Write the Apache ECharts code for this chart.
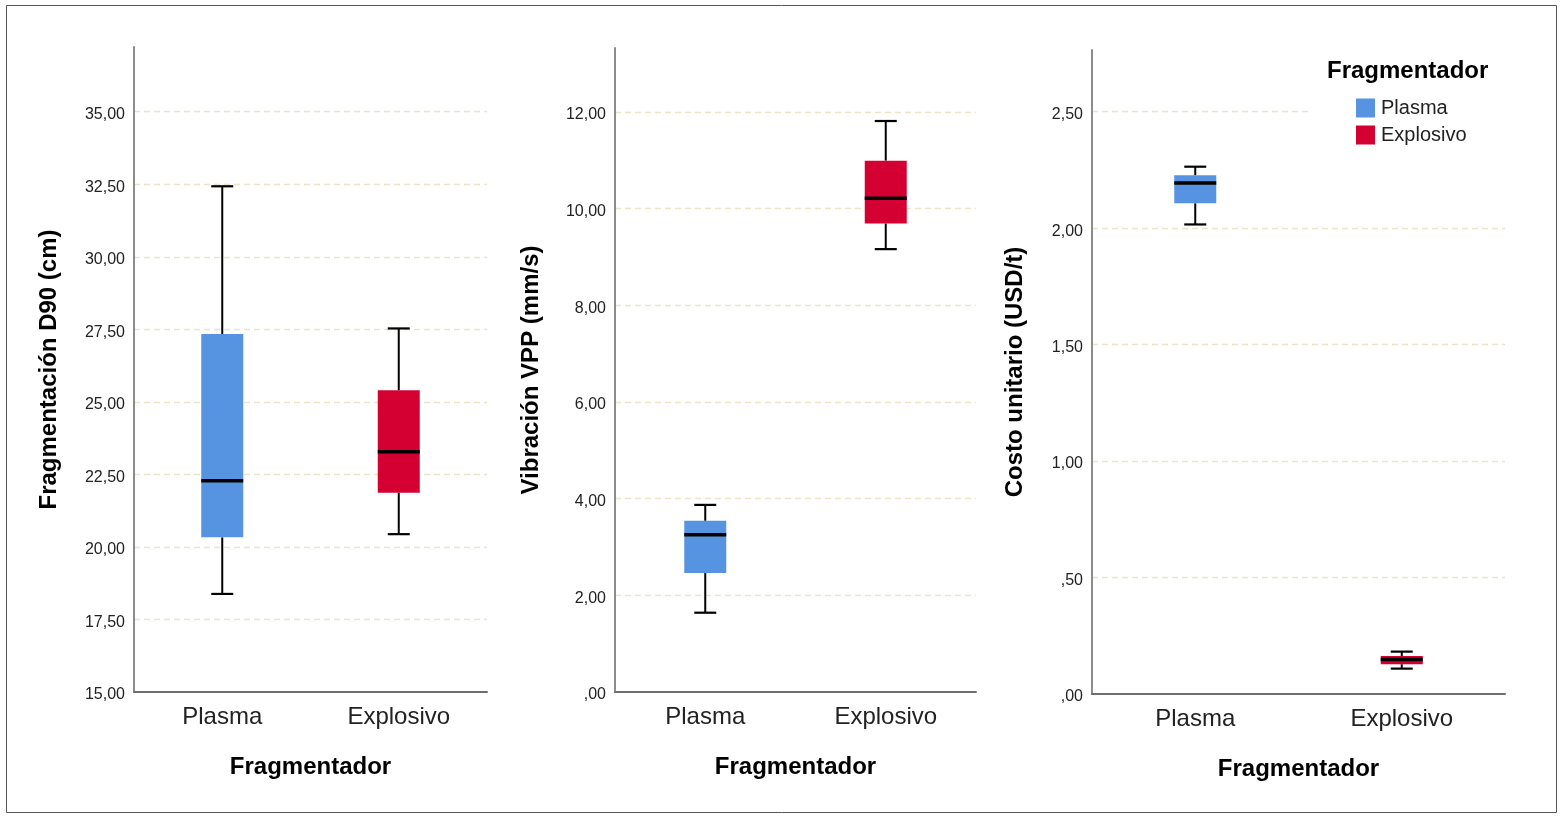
<!DOCTYPE html>
<html>
<head>
<meta charset="utf-8">
<script src="https://cdn.jsdelivr.net/npm/echarts@6/dist/echarts.min.js"></script>
<style>
  html, body { margin: 0; padding: 0; background: #fff; }
  #chart { width: 1561px; height: 819px; }
</style>
</head>
<body>
<div id="chart"></div>
<script>
// categorías del eje x
const categories = ['Plasma', 'Explosivo']
// [mín, Q1, mediana, Q3, máx]
const d90Plasma = [18.38, 20.33, 22.28, 27.34, 32.43]
const d90Explosivo = [20.44, 21.87, 23.28, 25.40, 27.53]
const vppPlasma = [1.64, 2.46, 3.25, 3.54, 3.87]
const vppExplosivo = [9.16, 9.69, 10.21, 10.99, 11.81]
const costoPlasma = [2.016, 2.107, 2.194, 2.227, 2.264]
const costoExplosivo = [0.109, 0.128, 0.148, 0.163, 0.182]
// marcas del eje y
const d90Ticks = [15, 17.5, 20, 22.5, 25, 27.5, 30, 32.5, 35]
const vppTicks = [0, 2, 4, 6, 8, 10, 12]
const costoTicks = [0, 0.5, 1, 1.5, 2, 2.5]

const colors = { Plasma: '#5694e2', Explosivo: '#d50032' }
const font = 'Liberation Sans, Arial, sans-serif'

// formato SPSS: coma decimal y sin cero inicial
const fmt = v => {
  const s = v.toFixed(2).replace('.', ',')
  return s.startsWith('0,') ? s.slice(1) : s
}

// caja con bigotes dibujada con serie custom
const renderBox = (params, api) => {
  const cat = api.value(0)
  const p = [1, 2, 3, 4, 5].map(i => api.coord([cat, api.value(i)]))
  const cx = p[0][0]
  const half = 21
  const cap = 11
  const line = (x1, y1, x2, y2, w) => ({
    type: 'line',
    shape: { x1, y1, x2, y2 },
    style: { stroke: '#000', lineWidth: w }
  })
  return {
    type: 'group',
    children: [
      line(cx, p[4][1], cx, p[3][1], 2),
      line(cx, p[1][1], cx, p[0][1], 2),
      line(cx - cap, p[4][1], cx + cap, p[4][1], 2.2),
      line(cx - cap, p[0][1], cx + cap, p[0][1], 2.2),
      {
        type: 'rect',
        shape: { x: cx - half, y: p[3][1], width: half * 2, height: p[1][1] - p[3][1] },
        style: { fill: api.visual('color') }
      },
      line(cx - half, p[2][1], cx + half, p[2][1], 3.5)
    ]
  }
}

const grids = [
  { left: 134, top: 47, width: 353, height: 645 },
  { left: 615, top: 48, width: 361, height: 644 },
  { left: 1092, top: 50, width: 413, height: 644 }
]

const yAxisDef = (idx, name, ticks, max, gap) => ({
  gridIndex: idx,
  type: 'value',
  name,
  nameLocation: 'middle',
  nameGap: gap,
  nameTextStyle: { fontFamily: font, fontSize: 24, fontWeight: 'bold', color: '#000' },
  min: ticks[0],
  max,
  interval: ticks[1] - ticks[0],
  axisLine: { show: true, lineStyle: { color: '#8c8c8c', width: 2 } },
  axisTick: { show: false },
  axisLabel: {
    fontFamily: font, fontSize: 16, color: '#222', margin: 9,
    verticalAlign: 'top', lineHeight: 6,
    showMaxLabel: false,
    formatter: v => (ticks.some(t => Math.abs(t - v) < 1e-6) ? fmt(v) : '')
  },
  splitLine: {
    show: true, showMinLine: false, showMaxLine: false,
    lineStyle: { color: '#ebe5c8', width: 1.3, type: [6, 4] }
  }
})

const xAxisDef = idx => ({
  gridIndex: idx,
  type: 'category',
  data: categories,
  name: 'Fragmentador',
  nameLocation: 'middle',
  nameGap: 63,
  nameTextStyle: { fontFamily: font, fontSize: 24, fontWeight: 'bold', color: '#000' },
  axisLine: { lineStyle: { color: '#6e6e6e', width: 2 } },
  axisTick: { show: false },
  axisLabel: { fontFamily: font, fontSize: 24, color: '#222', margin: 13 },
  splitLine: { show: false }
})

const boxSeries = (idx, name, stats) => ({
  type: 'custom',
  name,
  xAxisIndex: idx,
  yAxisIndex: idx,
  itemStyle: { color: colors[name] },
  renderItem: renderBox,
  encode: { x: 0, y: [1, 2, 3, 4, 5] },
  data: [[name].concat(stats)]
})

const chart = echarts.init(document.getElementById('chart'))
chart.setOption({
  animation: false,
  backgroundColor: '#fff',
  title: {
    text: 'Fragmentador',
    left: 1327,
    top: 59,
    padding: 0,
    textStyle: { fontFamily: font, fontSize: 24, fontWeight: 'bold', color: '#000' }
  },
  legend: {
    data: categories,
    orient: 'vertical',
    left: 1308,
    top: 92,
    padding: [6, 60, 6, 48],
    backgroundColor: '#fff',
    icon: 'rect',
    itemWidth: 19,
    itemHeight: 19,
    itemGap: 7,
    textStyle: { fontFamily: font, fontSize: 20, color: '#222', padding: [0, 0, 0, 1] }
  },
  grid: grids,
  xAxis: [xAxisDef(0), xAxisDef(1), xAxisDef(2)],
  yAxis: [
    yAxisDef(0, 'Fragmentación D90 (cm)', d90Ticks, 37.23, 73),
    yAxisDef(1, 'Vibración VPP (mm/s)', vppTicks, 13.32, 72),
    yAxisDef(2, 'Costo unitario (USD/t)', costoTicks, 2.765, 65)
  ],
  series: [
    boxSeries(0, 'Plasma', d90Plasma),
    boxSeries(0, 'Explosivo', d90Explosivo),
    boxSeries(1, 'Plasma', vppPlasma),
    boxSeries(1, 'Explosivo', vppExplosivo),
    boxSeries(2, 'Plasma', costoPlasma),
    boxSeries(2, 'Explosivo', costoExplosivo)
  ],
  graphic: [{
    type: 'rect',
    shape: { x: 6.5, y: 5.5, width: 1550, height: 807 },
    style: { fill: null, stroke: '#555', lineWidth: 1 },
    silent: true
  }]
})
</script>
</body>
</html>
